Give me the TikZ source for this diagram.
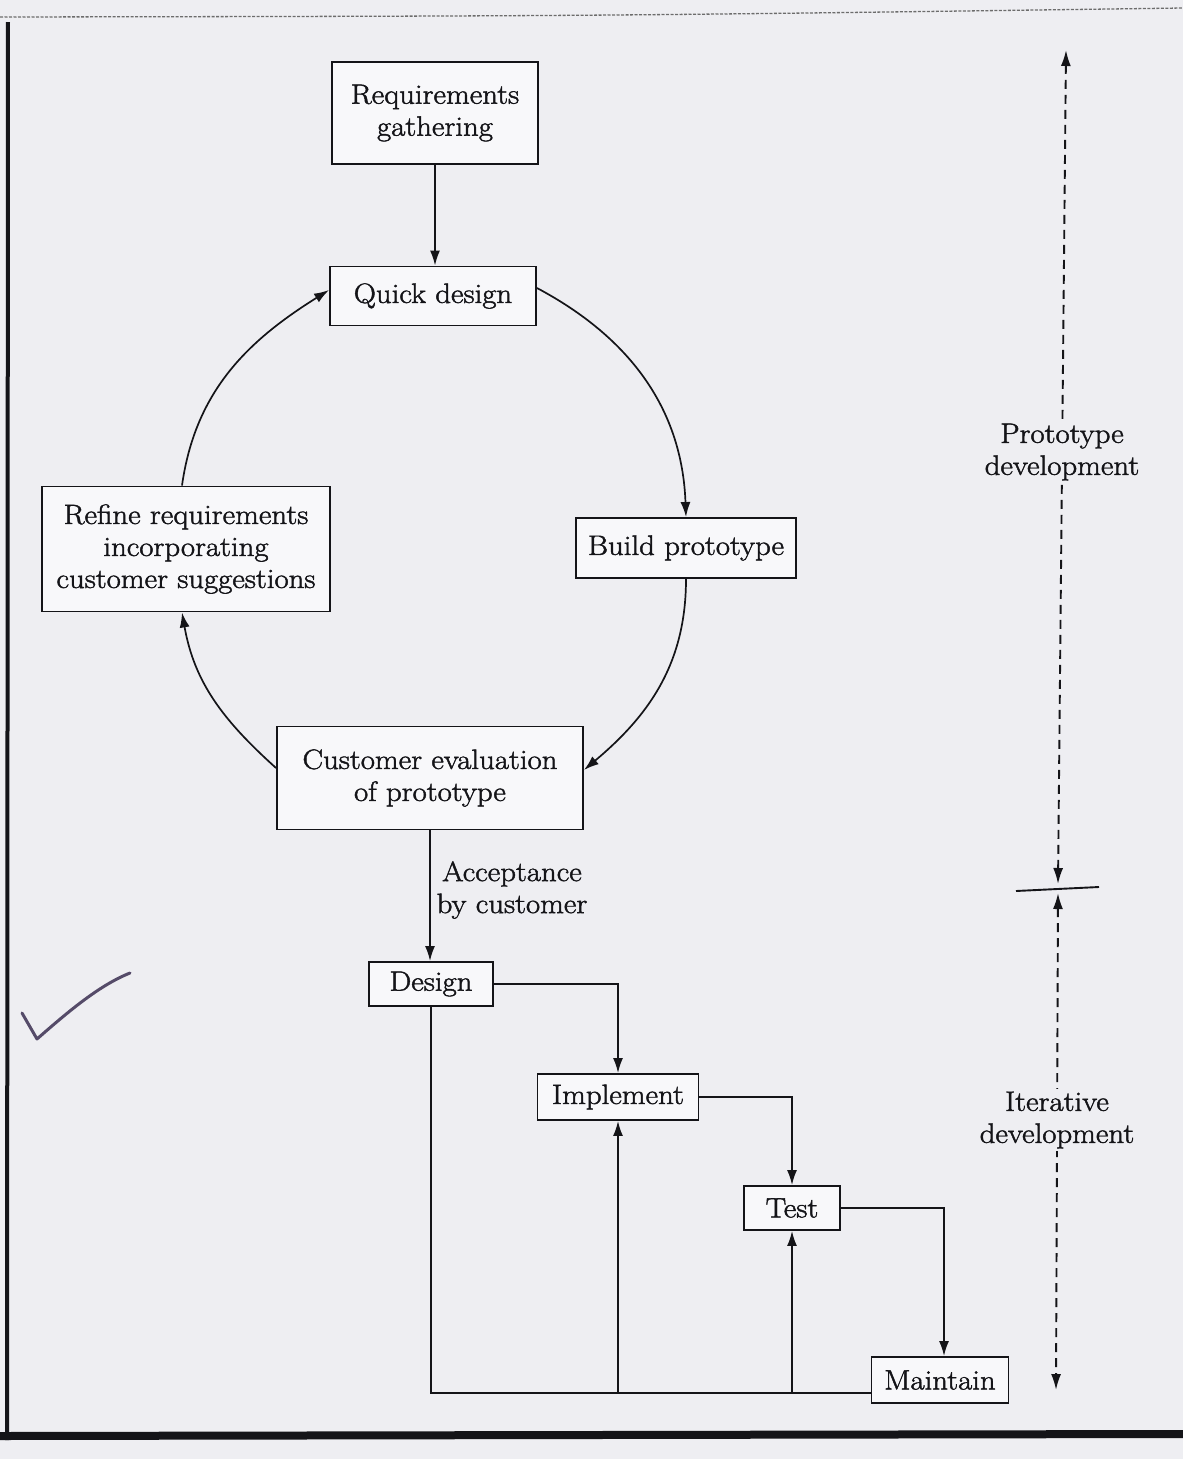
\documentclass[tikz,border=0pt]{standalone}
\usepackage{fontspec}
\usetikzlibrary{arrows.meta,calc}
\newfontfamily\diagfont{Latin Modern Roman}[FakeBold=1.6,FakeStretch=1.1]
\definecolor{paper}{RGB}{238,238,242}
\definecolor{boxfill}{RGB}{248,248,250}
\definecolor{ink}{RGB}{20,20,24}
\definecolor{pencil}{RGB}{85,75,105}
\tikzset{
  box/.style={draw=ink, line width=1.9pt, fill=boxfill, inner sep=0pt, align=center,
    font=\diagfont\fontsize{28}{32}\selectfont, text=ink},
  flow/.style={draw=ink, line width=1.7pt, -{Latex[length=15pt,width=10pt]}},
  link/.style={draw=ink, line width=1.7pt},
  span/.style={draw=ink, line width=1.9pt, dash pattern=on 9pt off 6pt,
    {Latex[length=16pt,width=10pt]}-{Latex[length=16pt,width=10pt]}},
  lbl/.style={font=\diagfont\fontsize{28}{32}\selectfont, text=ink, align=center, inner sep=3pt}
}
\begin{document}
\begin{tikzpicture}[x=1pt,y=1pt]
  % page
  \fill[paper] (0,0) rectangle (1183,-1459);
  \useasboundingbox (0,0) rectangle (1183,-1459);
  \draw[gray!85!black, line width=1.3pt, dash pattern=on 3pt off 1.5pt] (0,-17) .. controls (600,-16) .. (1183,-8);
  \draw[ink, line width=4pt] (8,-22) -- (7,-1440);
  \draw[ink, line width=8pt] (0,-1436) -- (1183,-1434);

  % process boxes
  \node[box, minimum width=206pt, minimum height=102pt] (req) at (435,-113) {Requirements\\gathering};
  \node[box, minimum width=206pt, minimum height=59pt] (quick) at (433,-296) {Quick design};
  \node[box, minimum width=220pt, minimum height=60pt] (build) at (686,-548) {Build prototype};
  \node[box, minimum width=288pt, minimum height=125pt] (refine) at (186,-549) {Refine requirements\\incorporating\\customer suggestions};
  \node[box, minimum width=306pt, minimum height=103pt] (eval) at (430,-778) {Customer evaluation\\of prototype};
  \node[box, minimum width=124pt, minimum height=44pt] (design) at (431,-984) {Design};
  \node[box, minimum width=161pt, minimum height=46pt] (impl) at (618,-1097) {Implement};
  \node[box, minimum width=96pt, minimum height=44pt] (test) at (792,-1208) {Test};
  \node[box, minimum width=137pt, minimum height=46pt] (maint) at (940,-1380) {Maintain};

  % prototyping loop
  \draw[flow] (req.south) -- (req.south |- quick.north);
  \draw[flow] ([yshift=8pt]quick.east) to[out=-28,in=92] (build.north);
  \draw[flow] (build.south) to[out=-90,in=40] ([yshift=8pt]eval.east);
  \draw[flow] ([yshift=10pt]eval.west) to[out=138,in=-80] ([xshift=-4pt]refine.south);
  \draw[flow] ([xshift=-4pt]refine.north) to[out=82,in=-148] ([yshift=6pt]quick.west);

  % iterative development
  \draw[flow] (eval.south) -- (eval.south |- design.north);
  \node[lbl] (accept) at (512,-890) {Acceptance\\by customer};
  \draw[flow] (design.east) -| (impl.north);
  \draw[flow] (impl.east) -| (test.north);
  \draw[flow] (test.east) -| ([xshift=4pt]maint.north);

  % feedback lines
  \coordinate (base) at (430,-1393);
  \draw[link] (maint.west |- base) -- (design.south |- base) -- (design.south);
  \draw[flow] (impl.south |- base) -- (impl.south);
  \draw[flow] (test.south |- base) -- (test.south);

  % phase extents
  \coordinate (phaseTop) at (1066,-50);
  \coordinate (phaseMidA) at (1058,-884);
  \coordinate (phaseMidB) at (1058,-893);
  \coordinate (phaseBot) at (1056,-1390);
  \coordinate (tickL) at (1016,-891);
  \coordinate (tickR) at (1099,-887);
  \draw[span] (phaseMidA) -- (phaseTop);
  \draw[span] (phaseMidB) -- (phaseBot);
  \draw[ink, line width=1.9pt] (tickL) -- (tickR);
  \node[lbl, fill=paper] (proto) at (1062,-452) {Prototype\\development};
  \node[lbl, fill=paper] (iter) at (1057,-1120) {Iterative\\development};

  % pencil tick in the margin
  \draw[pencil, line width=3pt, line cap=round, line join=round]
    (22,-1013) -- (37,-1039) .. controls (70,-1010) and (100,-985) .. (130,-973);
\end{tikzpicture}
\end{document}
